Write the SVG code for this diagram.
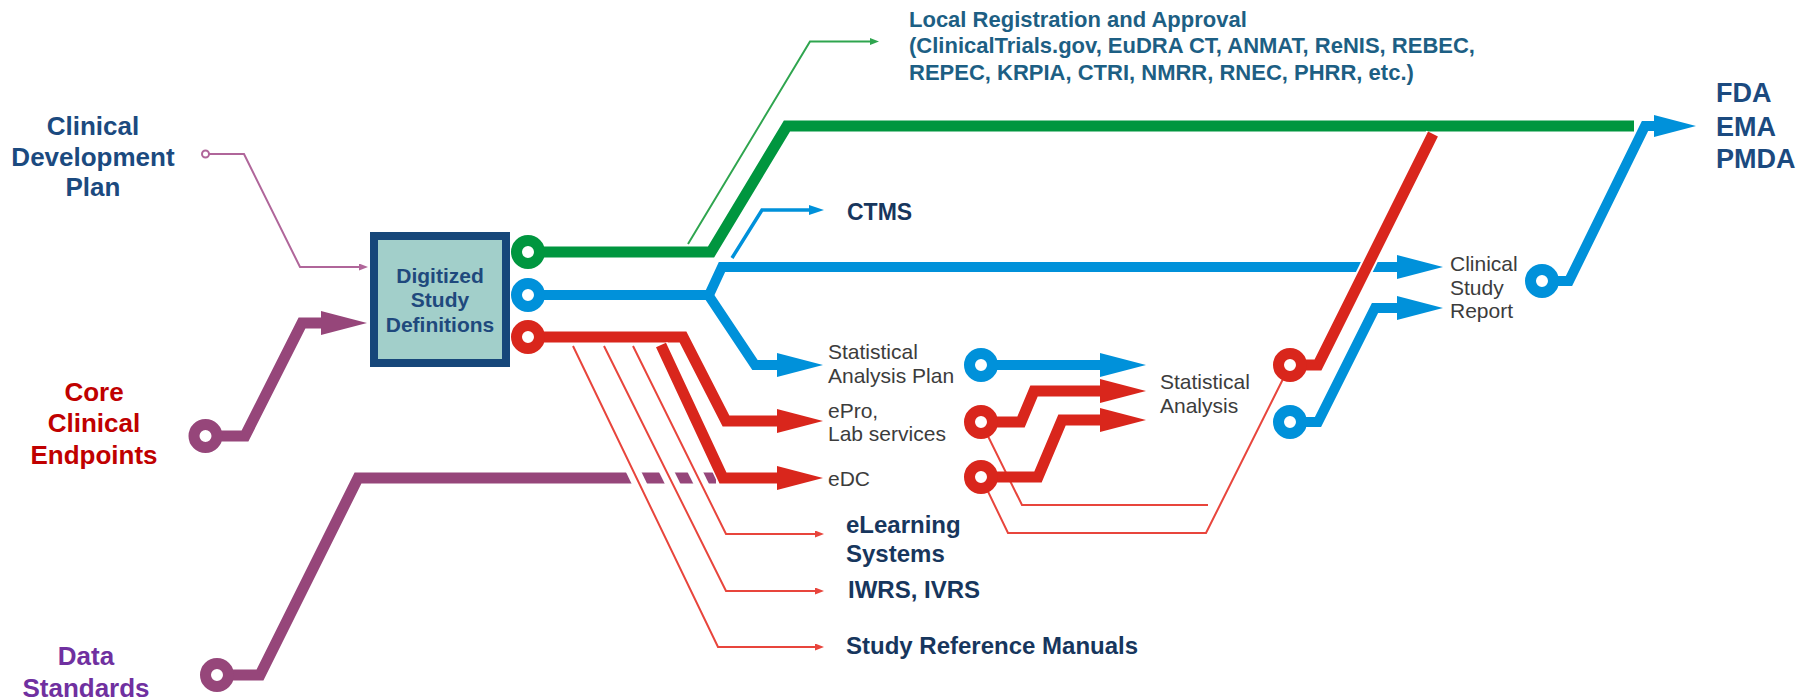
<svg xmlns="http://www.w3.org/2000/svg" width="1804" height="700" viewBox="0 0 1804 700">
<style>
text { font-family: "Liberation Sans", Arial, sans-serif; }
.big { font-size: 26px; font-weight: bold; }
.lbl { font-size: 21px; fill: #3c3c3c; }
.sys { font-size: 24px; font-weight: bold; fill: #17365d; }
.reg { font-size: 22px; font-weight: bold; fill: #1d5f84; }
.box { font-size: 21px; font-weight: bold; fill: #1f497d; }
.ln { fill: none; stroke-linejoin: miter; }
.pur { stroke: #96467a; stroke-width: 11; }
.grn { stroke: #00963f; stroke-width: 11; }
.blu { stroke: #0091da; stroke-width: 10; }
.red { stroke: #d9261c; stroke-width: 11; }
.halo { stroke: #ffffff; }
.thinred { stroke: #e8453c; stroke-width: 2; }
.ring { fill: #ffffff; stroke-width: 11; }
</style>
<defs>
<marker id="aPur" markerUnits="userSpaceOnUse" viewBox="0 0 46 24" markerWidth="46" markerHeight="24" refX="2" refY="12" orient="auto"><path d="M0,0 L46,12 L0,24 Z" fill="#96467a"/></marker>
<marker id="aBlu" markerUnits="userSpaceOnUse" viewBox="0 0 46 24" markerWidth="46" markerHeight="24" refX="2" refY="12" orient="auto"><path d="M0,0 L46,12 L0,24 Z" fill="#0091da"/></marker>
<marker id="aRed" markerUnits="userSpaceOnUse" viewBox="0 0 46 24" markerWidth="46" markerHeight="24" refX="2" refY="12" orient="auto"><path d="M0,0 L46,12 L0,24 Z" fill="#d9261c"/></marker>
<marker id="aBluFda" markerUnits="userSpaceOnUse" viewBox="0 0 42 22" markerWidth="42" markerHeight="22" refX="2" refY="11" orient="auto"><path d="M0,0 L42,11 L0,22 Z" fill="#0091da"/></marker>
<marker id="aBluSm" markerUnits="userSpaceOnUse" viewBox="0 0 15 10" markerWidth="15" markerHeight="10" refX="1" refY="5" orient="auto"><path d="M0,0 L15,5 L0,10 Z" fill="#0091da"/></marker>
<marker id="aRedSm" markerUnits="userSpaceOnUse" viewBox="0 0 9 7" markerWidth="9" markerHeight="7" refX="1" refY="3.5" orient="auto"><path d="M0,0 L9,3.5 L0,7 Z" fill="#e8453c"/></marker>
<marker id="aGrnSm" markerUnits="userSpaceOnUse" viewBox="0 0 9 7" markerWidth="9" markerHeight="7" refX="1" refY="3.5" orient="auto"><path d="M0,0 L9,3.5 L0,7 Z" fill="#2fa54f"/></marker>
<marker id="aMauSm" markerUnits="userSpaceOnUse" viewBox="0 0 9 7" markerWidth="9" markerHeight="7" refX="1" refY="3.5" orient="auto"><path d="M0,0 L9,3.5 L0,7 Z" fill="#b0669a"/></marker>
</defs>

<g id="connectors">
  <path class="ln" d="M209,154 H244 L300,267 H360" stroke="#b0669a" stroke-width="2" marker-end="url(#aMauSm)"/>
  <circle cx="205.5" cy="154" r="3.5" fill="#fff" stroke="#b0669a" stroke-width="2"/>
  <path class="ln pur" d="M206,436 H245 L302,323 H323" marker-end="url(#aPur)"/>
  <circle class="ring" cx="205.5" cy="436" r="11.5" stroke="#96467a"/>
  <path class="ln pur" d="M217,675 H260 L358,478 H716"/>
  <circle class="ring" cx="217" cy="675" r="11.5" stroke="#96467a"/>

  <path class="ln" d="M688,244 L810,41.5 H871" stroke="#2fa54f" stroke-width="2" marker-end="url(#aGrnSm)"/>
  <path class="ln grn" d="M528,252 H711 L787,126 H1634"/>
  <circle class="ring" cx="528" cy="252" r="11.5" stroke="#00963f"/>

  <path class="ln" d="M732,258 L762,210 H810" stroke="#0091da" stroke-width="3.5" marker-end="url(#aBluSm)"/>
  <path class="ln blu" d="M528,295 H709 L722,267 H1399" marker-end="url(#aBlu)"/>
  <path class="ln blu" d="M709,296 L755,365 H779" marker-end="url(#aBlu)"/>
  <circle class="ring" cx="528" cy="295" r="11.5" stroke="#0091da"/>

  <path class="ln red" d="M528,337 H683 L726,421 H779" marker-end="url(#aRed)"/>
  <circle class="ring" cx="528" cy="337" r="11.5" stroke="#d9261c"/>
  <path class="ln halo" stroke-width="14" d="M573,346 L718,647"/>
  <path class="ln halo" stroke-width="14" d="M604,346 L726,591"/>
  <path class="ln halo" stroke-width="14" d="M633,346 L726,534"/>
  <path class="ln thinred" d="M573,346 L718,647 H816" marker-end="url(#aRedSm)"/>
  <path class="ln thinred" d="M604,346 L726,591 H816" marker-end="url(#aRedSm)"/>
  <path class="ln thinred" d="M633,346 L726,534 H816" marker-end="url(#aRedSm)"/>
  <path class="ln halo" stroke-width="14" d="M661,345 L723,478"/>
  <path class="ln red" d="M661,345 L723,478 H779" marker-end="url(#aRed)"/>

  <path class="ln thinred" d="M981,422 L1022,505 H1208"/>
  <path class="ln thinred" d="M981,477 L1008,533 H1206 L1290,365"/>
  <path class="ln blu" stroke-width="9" d="M981,365 H1102" marker-end="url(#aBlu)"/>
  <circle class="ring" cx="981" cy="365" r="11.5" stroke="#0091da"/>
  <path class="ln red" stroke-width="10" d="M981,422 H1021 L1034,391 H1102" marker-end="url(#aRed)"/>
  <path class="ln red" stroke-width="10" d="M981,477 H1038 L1062,420 H1102" marker-end="url(#aRed)"/>
  <circle class="ring" cx="981" cy="422" r="11.5" stroke="#d9261c"/>
  <circle class="ring" cx="981" cy="477" r="11.5" stroke="#d9261c"/>

  <path class="ln halo" stroke-width="15" d="M1318,365 L1433,134"/>
  <path class="ln red" d="M1290,365 H1318 L1433,134"/>
  <circle class="ring" cx="1290" cy="365" r="11.5" stroke="#d9261c"/>
  <path class="ln blu" d="M1290,422 H1318 L1375,308 H1399" marker-end="url(#aBlu)"/>
  <circle class="ring" cx="1290" cy="422" r="11.5" stroke="#0091da"/>

  <path class="ln blu" d="M1542,281 H1569 L1645,126 H1656" marker-end="url(#aBluFda)"/>
  <circle class="ring" cx="1542" cy="281" r="11.5" stroke="#0091da"/>
</g>

<g id="node-cdp"><text class="big" fill="#1b4a7f" text-anchor="middle"><tspan x="93" y="135">Clinical</tspan><tspan x="93" y="166">Development</tspan><tspan x="93" y="196">Plan</tspan></text></g>
<g id="node-core"><text class="big" fill="#c00000" text-anchor="middle"><tspan x="94" y="401">Core</tspan><tspan x="94" y="432">Clinical</tspan><tspan x="94" y="464">Endpoints</tspan></text></g>
<g id="node-data"><text class="big" fill="#7030a0" text-anchor="middle"><tspan x="86" y="665">Data</tspan><tspan x="86" y="697">Standards</tspan></text></g>
<g id="node-dsd">
  <rect x="374" y="236" width="132" height="127" fill="#a2cfca" stroke="#17477a" stroke-width="8"/>
  <text class="box" text-anchor="middle"><tspan x="440" y="283">Digitized</tspan><tspan x="440" y="307">Study</tspan><tspan x="440" y="332">Definitions</tspan></text>
</g>
<g id="node-registration"><text class="reg"><tspan x="909" y="27">Local Registration and Approval</tspan><tspan x="909" y="53">(ClinicalTrials.gov, EuDRA CT, ANMAT, ReNIS, REBEC,</tspan><tspan x="909" y="80">REPEC, KRPIA, CTRI, NMRR, RNEC, PHRR, etc.)</tspan></text></g>
<g id="node-ctms"><text class="sys" style="font-size:23px" x="847" y="220">CTMS</text></g>
<g id="node-sap"><text class="lbl"><tspan x="828" y="359">Statistical</tspan><tspan x="828" y="383">Analysis Plan</tspan></text></g>
<g id="node-epro"><text class="lbl"><tspan x="828" y="418">ePro,</tspan><tspan x="828" y="441">Lab services</tspan></text></g>
<g id="node-edc"><text class="lbl" x="828" y="486">eDC</text></g>
<g id="node-elearning"><text class="sys"><tspan x="846" y="533">eLearning</tspan><tspan x="846" y="562">Systems</tspan></text></g>
<g id="node-iwrs"><text class="sys" x="848" y="598">IWRS, IVRS</text></g>
<g id="node-srm"><text class="sys" x="846" y="654">Study Reference Manuals</text></g>
<g id="node-stat"><text class="lbl"><tspan x="1160" y="389">Statistical</tspan><tspan x="1160" y="413">Analysis</tspan></text></g>
<g id="node-csr"><text class="lbl"><tspan x="1450" y="271">Clinical</tspan><tspan x="1450" y="295">Study</tspan><tspan x="1450" y="318">Report</tspan></text></g>
<g id="node-agencies"><text class="big" style="font-size:27px" fill="#1b4a7f"><tspan x="1716" y="102">FDA</tspan><tspan x="1716" y="136">EMA</tspan><tspan x="1716" y="168">PMDA</tspan></text></g>
</svg>
